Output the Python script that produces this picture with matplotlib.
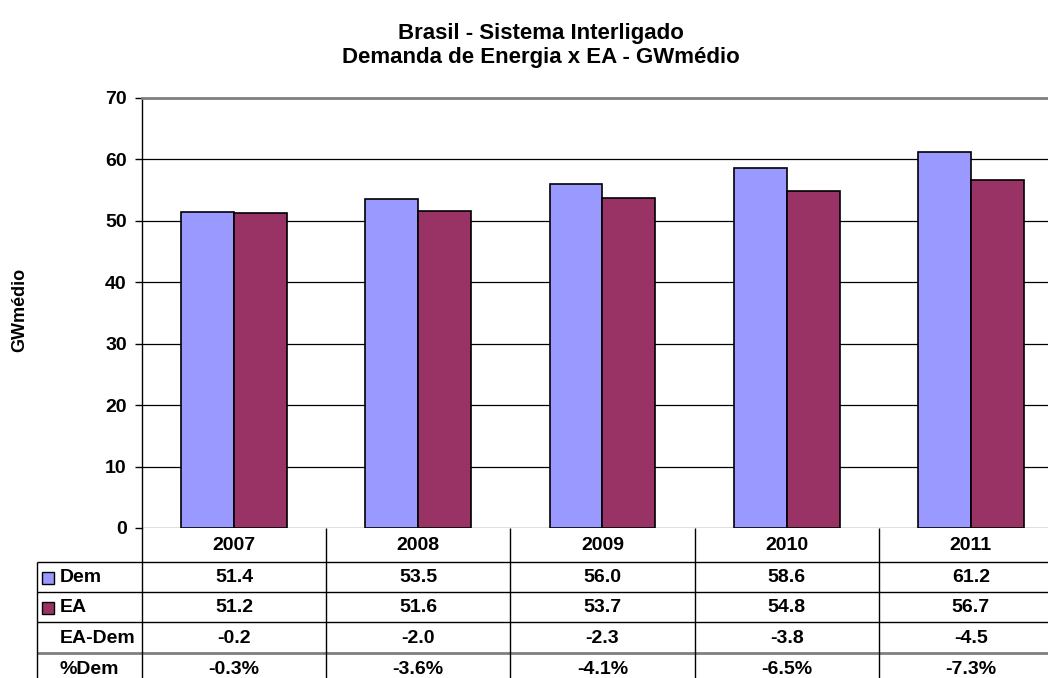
import matplotlib
matplotlib.use("Agg")
import matplotlib.pyplot as plt
from matplotlib.patches import Rectangle

anos = ["2007", "2008", "2009", "2010", "2011"]
dem = [51.4, 53.5, 56.0, 58.6, 61.2]
ea = [51.2, 51.6, 53.7, 54.8, 56.7]
ea_dem = [-0.2, -2.0, -2.3, -3.8, -4.5]
pct_dem = [-0.3, -3.6, -4.1, -6.5, -7.3]
yticks = [0, 10, 20, 30, 40, 50, 60, 70]

cor_dem = "#9999FF"
cor_ea = "#993366"

plt.rcParams["font.family"] = ["Liberation Sans", "DejaVu Sans"]
plt.rcParams["font.weight"] = "bold"

W, H = 1048, 678
fig = plt.figure(figsize=(W / 100, H / 100), dpi=100)

# area do grafico em pixels
x0, x1 = 142, 1063
y_top, y_bot = 98, 528
ax = fig.add_axes([x0 / W, 1 - y_bot / H, (x1 - x0) / W, (y_bot - y_top) / H])

n = len(anos)
larg = 0.287
xs = list(range(n))
ax.bar([x - larg / 2 for x in xs], dem, width=larg, color=cor_dem,
       edgecolor="black", linewidth=1.2, zorder=3)
ax.bar([x + larg / 2 for x in xs], ea, width=larg, color=cor_ea,
       edgecolor="black", linewidth=1.2, zorder=3)

ax.set_xlim(-0.5, n - 0.5)
ax.set_ylim(0, 70)
ax.set_yticks(yticks)
ax.set_xticks([])
ax.tick_params(axis="y", length=5, width=1, labelsize=14, pad=6)
for s in ["right", "bottom"]:
    ax.spines[s].set_visible(False)
ax.spines["left"].set_linewidth(1)
ax.spines["top"].set_color("#808080")
ax.spines["top"].set_linewidth(2)
ax.grid(axis="y", color="black", linewidth=0.9, zorder=0)

fig.text(20 / W, 1 - 310 / H, "GWmédio", rotation=90,
         ha="center", va="center", fontsize=13, fontweight="bold")

fig.text(541 / W, 1 - 34 / H, "Brasil - Sistema Interligado", ha="center",
         va="center", fontsize=16, fontweight="bold")
fig.text(541 / W, 1 - 58 / H, "Demanda de Energia x EA - GWmédio", ha="center",
         va="center", fontsize=16, fontweight="bold")

# tabela de dados abaixo do grafico, em coordenadas de pixel
tab = fig.add_axes([0, 0, 1, 1], facecolor="none")
tab.set_xlim(0, W)
tab.set_ylim(H, 0)
tab.axis("off")

cat_w = (x1 - x0) / n
x_left = 37
linhas = [528, 562, 592, 622, 653, 684]

def hline(y, xa, xb, cor="black", lw=1):
    tab.plot([xa, xb], [y, y], color=cor, lw=lw, solid_capstyle="butt")

def vline(x, ya, yb):
    tab.plot([x, x], [ya, yb], color="black", lw=1, solid_capstyle="butt")

hline(linhas[1], x_left, x1)
hline(linhas[2], x_left, x1)
hline(linhas[3], x_left, x1)
hline(linhas[4], x_left, x1, cor="#808080", lw=2)
vline(x_left, linhas[1], H)
for i in range(n + 1):
    vline(x0 + i * cat_w, y_bot, H)

rotulos = ["Dem", "EA", "EA-Dem", "%Dem"]
valores = [
    [f"{v:.1f}" for v in dem],
    [f"{v:.1f}" for v in ea],
    [f"{v:.1f}" for v in ea_dem],
    [f"{v:.1f}%" for v in pct_dem],
]

for i, ano in enumerate(anos):
    tab.text(x0 + (i + 0.5) * cat_w, (linhas[0] + linhas[1]) / 2 + 1, ano,
             ha="center", va="center", fontsize=14)

for r, (rot, vals) in enumerate(zip(rotulos, valores)):
    yc = (linhas[r + 1] + linhas[r + 2]) / 2 + 1
    tab.text(60, yc, rot, ha="left", va="center", fontsize=14)
    for i, v in enumerate(vals):
        tab.text(x0 + (i + 0.5) * cat_w, yc, v, ha="center", va="center",
                 fontsize=14)

# chaves da legenda
for r, cor in enumerate([cor_dem, cor_ea]):
    yc = (linhas[r + 1] + linhas[r + 2]) / 2 + 1
    tab.add_patch(Rectangle((42, yc - 6), 12, 12, facecolor=cor,
                            edgecolor="black", lw=1))

fig.savefig("out.png", dpi=100)
